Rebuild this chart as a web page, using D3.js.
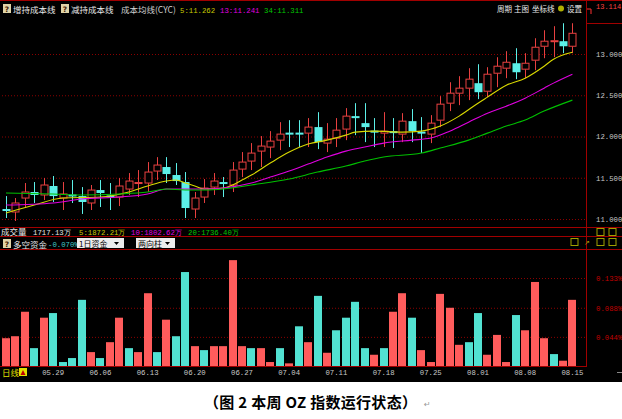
<!DOCTYPE html>
<html><head><meta charset="utf-8">
<script src="https://cdn.jsdelivr.net/npm/d3@7"></script>
<style>body{margin:0;background:#fff;}svg{display:block}</style>
</head><body>
<svg id="c" width="622" height="419"></svg>
<script>
// ---------- DATA ----------
const candleOpen  = [11.121,11.085,11.254,11.327,11.291,11.400,11.254,11.297,11.278,11.194,11.351,11.285,11.266,11.363,11.430,11.436,11.581,11.630,11.533,11.448,11.121,11.266,11.387,11.448,11.412,11.605,11.702,11.823,11.872,11.956,12.047,12.047,12.041,12.114,11.920,11.980,12.090,12.247,12.162,12.071,12.041,12.065,12.029,12.186,12.059,12.029,12.198,12.404,12.525,12.586,12.646,12.549,12.767,12.828,12.888,12.816,12.925,13.094,13.149,13.155,13.094];
const candleHigh  = [11.278,11.254,11.436,11.448,11.496,11.521,11.448,11.472,11.387,11.412,11.472,11.436,11.496,11.557,11.593,11.690,11.750,11.750,11.678,11.569,11.327,11.484,11.557,11.509,11.690,11.811,11.920,12.005,12.065,12.174,12.198,12.198,12.223,12.295,12.162,12.223,12.344,12.404,12.404,12.223,12.295,12.223,12.283,12.332,12.235,12.259,12.489,12.658,12.731,12.828,12.876,12.840,12.961,13.034,13.070,13.010,13.191,13.288,13.337,13.373,13.373];
const candleLow   = [11.012,10.976,11.133,11.194,11.230,11.206,11.109,11.194,11.061,11.109,11.145,11.109,11.157,11.291,11.266,11.327,11.472,11.436,11.412,11.012,11.012,11.194,11.291,11.266,11.327,11.509,11.593,11.630,11.738,11.835,11.872,11.872,11.872,11.847,11.811,11.872,11.956,12.017,11.932,11.872,11.872,11.860,11.932,11.932,11.799,11.920,12.114,12.308,12.380,12.441,12.453,12.477,12.598,12.707,12.695,12.707,12.804,12.949,12.961,13.010,13.010];
const candleClose = [11.097,11.194,11.327,11.291,11.412,11.278,11.303,11.285,11.206,11.351,11.315,11.272,11.400,11.460,11.442,11.569,11.654,11.545,11.460,11.133,11.254,11.375,11.460,11.424,11.593,11.690,11.799,11.884,11.944,12.029,12.035,12.035,12.114,11.932,11.968,12.077,12.247,12.235,12.114,12.059,12.065,12.041,12.186,12.065,12.047,12.162,12.392,12.525,12.586,12.695,12.537,12.755,12.852,12.900,12.779,12.888,13.082,13.155,13.161,13.094,13.251];

const ma5Index  = [0,3,6,10,13,15,17,18,19,20,21,23,24,25,26,28,30,32,34,36,37,39,42,44,46,48,50,51,53,55,57,58,60];
const ma5Value  = [11.073,11.169,11.254,11.266,11.327,11.400,11.460,11.472,11.436,11.400,11.363,11.375,11.412,11.472,11.533,11.678,11.811,11.908,11.956,12.017,12.053,12.065,12.053,12.065,12.126,12.247,12.404,12.477,12.622,12.707,12.852,12.937,13.022];
const ma13Index = [0,5,8,12,15,17,19,21,23,26,28,30,32,34,36,38,40,43,45,47,49,51,53,55,57,58,60];
const ma13Value = [11.169,11.194,11.242,11.266,11.303,11.363,11.363,11.363,11.375,11.436,11.509,11.581,11.666,11.751,11.823,11.872,11.920,11.956,11.981,12.065,12.174,12.283,12.368,12.465,12.586,12.647,12.755];
const ma34Index = [0,5,8,12,15,17,19,21,23,26,30,33,36,38,40,44,46,49,51,53,55,57,60];
const ma34Value = [11.315,11.303,11.291,11.303,11.327,11.363,11.351,11.351,11.363,11.412,11.484,11.569,11.642,11.702,11.751,11.799,11.860,11.956,12.041,12.126,12.199,12.308,12.441];

// signed fund flow (%): positive = inflow (red), negative = outflow (cyan)
const fundFlow = [0.042,0.045,0.082,-0.027,0.073,-0.080,-0.006,-0.012,-0.100,0.021,-0.012,0.036,0.073,-0.027,0.021,0.110,-0.021,0.070,-0.045,-0.142,0.030,-0.024,0.030,0.030,0.160,0.030,-0.027,0.027,0.006,-0.027,0.004,-0.060,0.036,-0.106,0.020,-0.054,-0.073,-0.097,-0.027,0.017,-0.027,0.082,0.110,-0.073,0.024,0.006,0.109,0.088,0.032,-0.036,-0.080,0.017,0.047,0.006,-0.077,0.054,0.127,0.042,-0.018,0.008,0.100];

const dateLabels = ['05.29','06.06','06.13','06.20','06.27','07.04','07.11','07.18','07.25','08.01','08.08','08.15'];
const dateIndex  = [5,10,15,20,25,30,35,40,45,50,55,60];
const priceTicks = [11.0,11.5,12.0,12.5,13.0];
const fundTicks  = [0.044,0.088,0.133];

// ---------- DRAW ----------
const svg = d3.select('#c');
const RED='#e84040', CYAN='#5cf0e8', BRED='#ff5c5c', BCYAN='#52e2d2', FRAME='#a00000', GRID='#8a0000';
const CJK='"Noto Sans CJK SC",sans-serif', MONO='"Liberation Mono","DejaVu Sans Mono",monospace';

svg.append('rect').attr('width',622).attr('height',382).attr('fill','#000');

const x  = d3.scaleLinear().domain([0,60]).range([6,572.4]);
const yP = d3.scaleLinear().domain([11,13]).range([219,54]);
const yF = d3.scaleLinear().domain([0,0.133]).range([366,278]);

// grid lines (price)
const gP = svg.append('g').attr('transform','translate(585,0)')
  .call(d3.axisLeft(yP).tickValues(priceTicks).tickSize(585).tickFormat(''));
gP.select('.domain').remove();
gP.selectAll('line').attr('stroke',GRID).attr('stroke-dasharray','1,2');
const lP = svg.append('g').attr('transform','translate(590,0)')
  .call(d3.axisRight(yP).tickValues(priceTicks).tickSize(0).tickPadding(6).tickFormat(d3.format('.3f')));
lP.select('.domain').remove();
lP.selectAll('text').attr('fill','#c8c8c8').attr('font-family',MONO).attr('font-size',7.3);

// grid lines (fund)
const gF = svg.append('g').attr('transform','translate(585,0)')
  .call(d3.axisLeft(yF).tickValues(fundTicks).tickSize(585).tickFormat(''));
gF.select('.domain').remove();
gF.selectAll('line').attr('stroke',GRID).attr('stroke-dasharray','1,2');
const lF = svg.append('g').attr('transform','translate(590,0)')
  .call(d3.axisRight(yF).tickValues(fundTicks).tickSize(0).tickPadding(6).tickFormat(d=>d3.format('.3f')(d)+'%'));
lF.select('.domain').remove();
lF.selectAll('text').attr('fill','#c00000').attr('font-family',MONO).attr('font-size',7.3);

// frame lines
const frame = [[0,0.5,622,0.5],[586.5,0,586.5,367],[0,227.5,622,227.5],[0,236.5,622,236.5],[0,249.5,622,249.5],[0,366.5,586.5,366.5],[587,23.5,622,23.5]];
svg.append('g').selectAll('line').data(frame).join('line')
  .attr('x1',d=>d[0]).attr('y1',d=>d[1]).attr('x2',d=>d[2]).attr('y2',d=>d[3])
  .attr('stroke',FRAME).attr('stroke-width',1);

// candles
const idx = d3.range(candleOpen.length);
const cg = svg.append('g');
idx.forEach(i=>{
  const o=candleOpen[i], c=candleClose[i], h=candleHigh[i], l=candleLow[i];
  const up = c>=o;
  const cx = Math.round(x(i))+0.5;
  const top = yP(Math.max(o,c)), bot = yP(Math.min(o,c));
  const col = up?RED:CYAN;
  if(up){
    cg.append('line').attr('x1',cx).attr('x2',cx).attr('y1',yP(h)).attr('y2',top).attr('stroke',col);
    cg.append('line').attr('x1',cx).attr('x2',cx).attr('y1',bot).attr('y2',yP(l)).attr('stroke',col);
    cg.append('rect').attr('x',cx-3.5).attr('y',top).attr('width',7).attr('height',Math.max(1,bot-top))
      .attr('fill','#000').attr('stroke',col);
  } else {
    cg.append('line').attr('x1',cx).attr('x2',cx).attr('y1',yP(h)).attr('y2',yP(l)).attr('stroke',col);
    cg.append('rect').attr('x',cx-4).attr('y',top).attr('width',8).attr('height',Math.max(2,bot-top)).attr('fill',col);
  }
});

// moving averages
const line = d3.line().curve(d3.curveMonotoneX);
[[ma5Index,ma5Value,'#d8d800'],[ma13Index,ma13Value,'#e000e0'],[ma34Index,ma34Value,'#00c000']].forEach(([ix,v,col])=>{
  svg.append('path').attr('d',line(ix.map((k,j)=>[x(k),yP(v[j])])))
    .attr('fill','none').attr('stroke',col).attr('stroke-width',1.1);
});

// fund bars
svg.append('g').selectAll('rect').data(fundFlow).join('rect')
  .attr('x',(d,i)=>Math.round(x(i))-4).attr('width',8)
  .attr('y',d=>yF(Math.abs(d))).attr('height',d=>Math.max(1,yF(0)-yF(Math.abs(d))))
  .attr('fill',d=>d>=0?BRED:BCYAN);

// date axis labels
svg.append('g').selectAll('text').data(dateIndex).join('text')
  .attr('x',d=>x(d)).attr('y',375).attr('text-anchor','middle')
  .attr('fill','#c8c8c8').attr('font-family',MONO).attr('font-size',7.3)
  .text((d,i)=>dateLabels[i]);
svg.append('line').attr('x1',617).attr('x2',622).attr('y1',372.5).attr('y2',372.5).attr('stroke','#888');

// ---------- texts ----------
function txt(s,xx,yy,col,font,size,anchor){
  return svg.append('text').attr('x',xx).attr('y',yy).attr('fill',col).attr('font-family',font)
    .attr('font-size',size).attr('text-anchor',anchor||'start').text(s);
}
function qicon(xx,yy){
  svg.append('rect').attr('x',xx).attr('y',yy).attr('width',8).attr('height',9).attr('fill','#e0d4a8');
  txt('?',xx+4,yy+7.5,'#402000','DejaVu Sans',7.5,'middle').attr('font-weight','bold');
}
// header row
qicon(3,4); txt('增持成本线',13,12.5,'#e8e8e8',CJK,8.5);
qicon(61,4); txt('减持成本线',71,12.5,'#e8e8e8',CJK,8.5);
txt('成本均线(CYC)',121,12.5,'#d0d0d0',CJK,8.5);
txt('5:11.262',180,12.5,'#c8c800',MONO,7.3);
txt('13:11.241',220,12.5,'#e000e0',MONO,7.3);
txt('34:11.311',264,12.5,'#00c800',MONO,7.3);
txt('周期',497,12,'#e8e8e8',CJK,7.5);
txt('主图',514,12,'#e8e8e8',CJK,7.5);
txt('坐标线',532,12,'#e8e8e8',CJK,7.5);
svg.append('circle').attr('cx',561).attr('cy',8.5).attr('r',3).attr('fill','#b0b000');
txt('设置',567,12,'#e8e8e8',CJK,7.5);
svg.append('path').attr('d','M587,9 L591,9 L591,14').attr('fill','none').attr('stroke','#ff3030');
txt('13.114',596,9,'#ff4040',MONO,7);

// volume row
txt('成交量',1,234.5,'#e8e8e8',CJK,8.5);
txt('1717.13万',33,234.5,'#e8e8e8',MONO,7.3);
txt('5:1872.21万',79,234.5,'#c8c800',MONO,7.3);
txt('10:1802.62万',131,234.5,'#e000e0',MONO,7.3);
txt('20:1736.40万',188,234.5,'#00c800',MONO,7.3);

// fund row
qicon(3,239); txt('多空资金',13,247.5,'#e8e8e8',CJK,8.5);
txt('-0.070%',48,247,'#40c8c8',MONO,7.3);
[[77,47,'1日资金'],[136,39,'两向柱']].forEach(([bx,bw,s])=>{
  svg.append('rect').attr('x',bx).attr('y',238).attr('width',bw).attr('height',10).attr('fill','#ececec');
  txt(s,bx+2,246.5,'#000',CJK,8);
  svg.append('path').attr('d',`M${bx+bw-10},242 L${bx+bw-5},242 L${bx+bw-7.5},245 Z`).attr('fill','#000');
});

// small tool icons
function icon(xx,yy,c){ svg.append('rect').attr('x',xx).attr('y',yy).attr('width',7).attr('height',7).attr('fill','none').attr('stroke',c); }
icon(597,228.5,'#a0a000'); icon(609,228.5,'#a0a000');
icon(571,238.5,'#a0a000'); icon(597,238.5,'#a0a000'); icon(609,238.5,'#a0a000');
txt('↗',584,245,'#a0a000','DejaVu Sans',7);

// 日线 label
txt('日线',2,376,'#e0e000',CJK,8.5);
svg.append('rect').attr('x',19).attr('y',368).attr('width',8).attr('height',8).attr('fill','#e0e000');
svg.append('path').attr('d','M20.5,375 L23,370 L25.5,375 Z').attr('fill','#c00000');

// caption
txt('（图 2 本周 OZ 指数运行状态）',204,408,'#000',CJK,15)
  .attr('font-weight','bold').attr('textLength',213).attr('lengthAdjust','spacing');
txt('↵',424,407,'#999','DejaVu Sans',8);
</script>
</body></html>
